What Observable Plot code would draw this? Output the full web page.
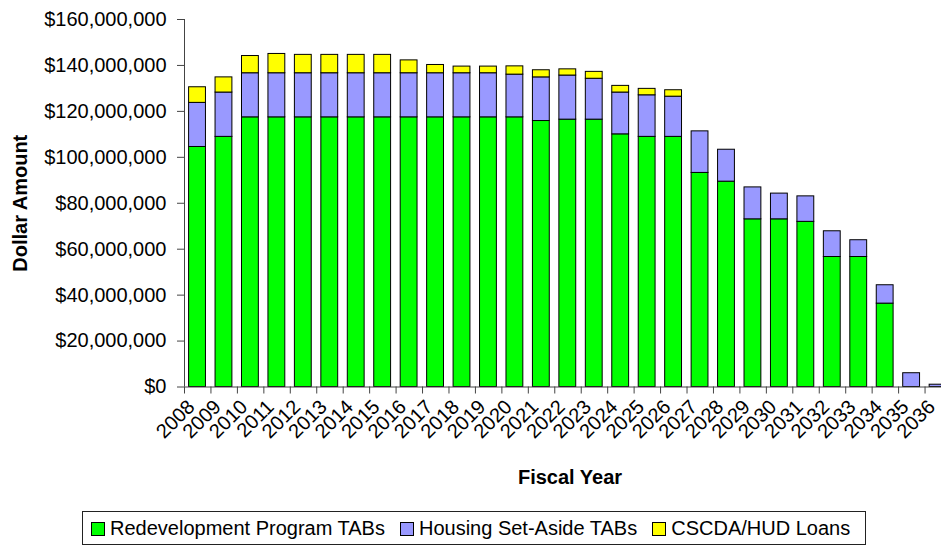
<!DOCTYPE html>
<html>
<head>
<meta charset="utf-8">
<script src="https://cdn.jsdelivr.net/npm/d3@7"></script>
<script src="https://cdn.jsdelivr.net/npm/@observablehq/plot@0.6"></script>
<style>
  html, body { margin: 0; padding: 0; background: #fff; overflow: hidden; }
  body { width: 941px; height: 546px; font-family: "Liberation Sans", Arial, sans-serif; }
  #legend {
    position: absolute; left: 82px; top: 511px; width: 782px; height: 31px;
    border: 1px solid #222; display: flex; align-items: center;
    font-size: 20px; color: #000; padding-top: 1px; box-sizing: content-box;
  }
  #legend .item { display: flex; align-items: center; margin-left: 8px; }
  #legend .item + .item { margin-left: 15px; }
  #legend .sw { width: 12px; height: 12px; border: 1px solid #000; margin-right: 5px; }
</style>
</head>
<body>
<div id="chart"></div>
<div id="legend"></div>
<script>
// Fiscal years (categories)
const years = [2008, 2009, 2010, 2011, 2012, 2013, 2014, 2015, 2016, 2017, 2018, 2019, 2020, 2021, 2022,
  2023, 2024, 2025, 2026, 2027, 2028, 2029, 2030, 2031, 2032, 2033, 2034, 2035, 2036];

// Series values, in millions of dollars
const redevelopmentTABs = [104.5, 108.9, 117.4, 117.4, 117.4, 117.4, 117.4, 117.4, 117.4, 117.4, 117.4, 117.4, 117.4, 115.8, 116.4,
  116.4, 110.0, 108.9, 108.9, 93.2, 89.4, 73.0, 73.0, 71.9, 56.6, 56.6, 36.3, 0, 0];
const housingSetAsideTABs = [19.2, 19.3, 19.2, 19.2, 19.2, 19.2, 19.2, 19.2, 19.2, 19.2, 19.2, 19.2, 18.6, 19.0, 19.2,
  17.8, 18.2, 18.1, 17.5, 18.1, 13.9, 13.9, 11.2, 11.1, 11.2, 7.3, 8.0, 6.0, 1.0];
const cscdaHudLoans = [6.8, 6.6, 7.5, 8.4, 8.0, 8.0, 8.0, 8.0, 5.6, 3.6, 2.9, 2.9, 3.6, 3.1, 2.7,
  3.0, 2.9, 2.8, 2.8, 0, 0, 0, 0, 0, 0, 0, 0, 0, 0];

const seriesNames = ["Redevelopment Program TABs", "Housing Set-Aside TABs", "CSCDA/HUD Loans"];
const seriesColors = ["#00FF00", "#9999FF", "#FFFF00"];
const yTicks = [0, 20e6, 40e6, 60e6, 80e6, 100e6, 120e6, 140e6, 160e6];

const seriesValues = [redevelopmentTABs, housingSetAsideTABs, cscdaHudLoans];
const table = [];
seriesNames.forEach((name, s) => {
  years.forEach((year, i) => {
    table.push({year, series: name, value: seriesValues[s][i] * 1e6});
  });
});

const boundaries = [...years, years[years.length - 1] + 1];

const chart = Plot.plot({
  width: 941,
  height: 505,
  marginLeft: 184,
  marginRight: 0,
  marginTop: 19,
  marginBottom: 118.5,
  style: {fontFamily: "'Liberation Sans', Arial, sans-serif", background: "#fff", color: "#000"},
  x: {type: "linear", domain: [years[0], years[years.length - 1] + 1], range: [184, 951], axis: null},
  y: {domain: [0, 160e6], axis: null},
  color: {domain: seriesNames, range: seriesColors},
  marks: [
    Plot.rectY(table, {
      x1: d => d.year, x2: d => d.year + 1, y: "value", fill: "series",
      insetLeft: 4.6, insetRight: 5, stroke: "#000", strokeWidth: 1
    }),
    Plot.ruleY([0], {stroke: "#444"}),
    Plot.ruleX([years[0]], {stroke: "#444"}),
    Plot.axisY({ticks: yTicks, tickFormat: d => "$" + d3.format(",")(d), tickSize: 7, tickPadding: 11,
      fontSize: 20, stroke: "#444", label: null}),
    Plot.axisX(boundaries, {tickSize: 7, tickFormat: () => "", stroke: "#444", label: null}),
    Plot.text(years, {x: d => d + 0.5, frameAnchor: "bottom", text: d => String(d), rotate: -45,
      textAnchor: "end", lineAnchor: "top", dx: -12, dy: 11, fontSize: 20}),
    Plot.text(["Dollar Amount"], {frameAnchor: "left", textAnchor: "middle", dx: -164, rotate: -90, fontSize: 20, fontWeight: "bold"}),
    Plot.text(["Fiscal Year"], {frameAnchor: "bottom", dx: 7, dy: 97, fontSize: 20, fontWeight: "bold"})
  ]
});
document.getElementById("chart").appendChild(chart);

const legend = document.getElementById("legend");
seriesNames.forEach((name, i) => {
  const item = document.createElement("div");
  item.className = "item";
  const sw = document.createElement("div");
  sw.className = "sw";
  sw.style.background = seriesColors[i];
  const label = document.createElement("span");
  label.textContent = name;
  item.appendChild(sw);
  item.appendChild(label);
  legend.appendChild(item);
});
</script>
</body>
</html>
